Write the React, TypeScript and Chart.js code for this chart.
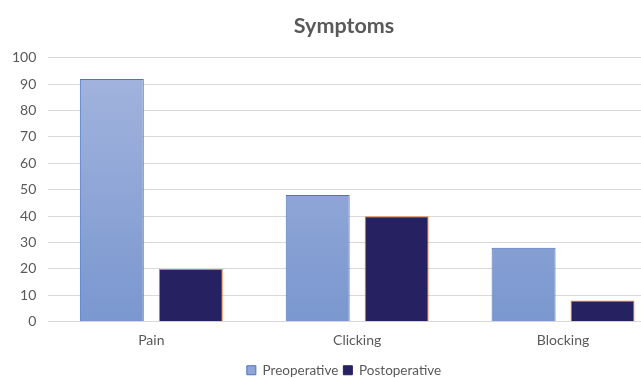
import React, { useEffect, useRef } from "react";
import { Chart, registerables } from "chart.js";

Chart.register(...registerables);

const categories = ["Pain", "Clicking", "Blocking"];
const preoperative = [92, 48, 28];
const postoperative = [20, 40, 8];
const seriesNames = ["Preoperative", "Postoperative"];
const titleText = "Symptoms";

const FONT = "Lato, 'Open Sans', sans-serif";

export default function App() {
  const ref = useRef<HTMLCanvasElement>(null);
  useEffect(() => {
    const ctx = ref.current!.getContext("2d")!;
    const grad = (c: any) => {
      const area = c.chart.chartArea;
      if (!area) return "#8ea5d6";
      const g = c.chart.ctx.createLinearGradient(0, area.top, 0, area.bottom);
      g.addColorStop(0, "#a4b5de");
      g.addColorStop(1, "#7a97cf");
      return g;
    };
    const chart = new Chart(ctx, {
      type: "bar",
      data: {
        labels: categories,
        datasets: [
          {
            label: seriesNames[0],
            data: preoperative,
            backgroundColor: grad,
            borderColor: "#4a74c4",
            borderWidth: 1,
            categoryPercentage: 0.767,
            barPercentage: 0.81,
          },
          {
            label: seriesNames[1],
            data: postoperative,
            backgroundColor: "#262262",
            borderColor: "#ed7d31",
            borderWidth: 1,
            categoryPercentage: 0.767,
            barPercentage: 0.81,
          },
        ],
      },
      options: {
        responsive: false,
        animation: false,
        devicePixelRatio: 1,
        layout: { padding: { left: 0, right: 0, top: 13, bottom: -9 } },
        plugins: {
          title: {
            display: true,
            text: titleText,
            color: "#595959",
            font: { family: FONT, size: 21.5, weight: "bold" },
            padding: { top: 0, bottom: 19 },
          },
          legend: {
            position: "bottom",
            labels: {
              color: "#595959",
              font: { family: FONT, size: 13.5 },
              boxWidth: 9,
              boxHeight: 9,
              padding: 5,
              generateLabels: (ch: any) =>
                ch.data.datasets.map((d: any, i: number) => ({
                  text: d.label,
                  fillStyle: i === 0 ? "#8ea5d6" : "#262262",
                  strokeStyle: i === 0 ? "#4a74c4" : "#262262",
                  lineWidth: 1,
                  fontColor: "#595959",
                  datasetIndex: i,
                  hidden: false,
                })),
            },
          },
          tooltip: { enabled: false },
        },
        scales: {
          x: {
            grid: { display: false, drawTicks: false },
            border: { display: true, color: "#d9d9d9" },
            ticks: { color: "#595959", font: { family: FONT, size: 14 }, padding: 10 },
          },
          y: {
            min: 0,
            max: 100,
            grid: { color: "#d9d9d9", drawTicks: false },
            border: { display: false },
            ticks: { stepSize: 10, color: "#595959", font: { family: FONT, size: 14 }, padding: 12 },
          },
          y2: {
            position: "right",
            display: true,
            min: 0,
            max: 100,
            grid: { display: false, drawTicks: false },
            border: { display: false },
            ticks: { display: false },
            afterFit: (s: any) => {
              s.width = 22;
            },
          },
        },
      },
    });
    return () => chart.destroy();
  }, []);
  return (
    <div style={{ position: "fixed", left: 0, top: 0, width: 641, height: 378, overflow: "hidden", background: "#fff" }}>
      <canvas ref={ref} width={688} height={378} style={{ display: "block" }} />
    </div>
  );
}
